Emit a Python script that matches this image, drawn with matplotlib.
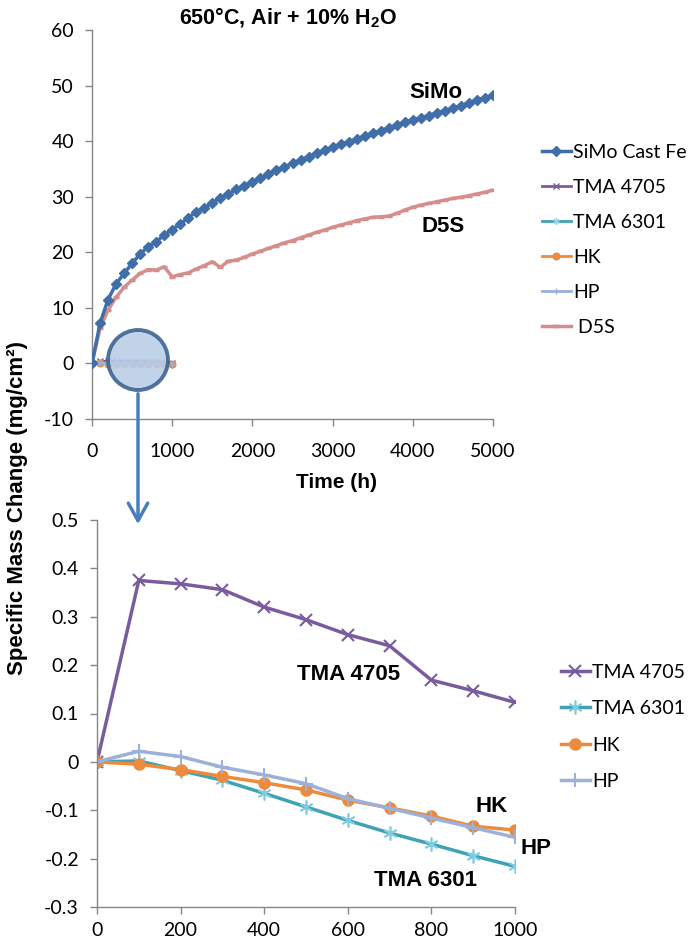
import numpy as np
import matplotlib
matplotlib.use('Agg')
import matplotlib.pyplot as plt
import matplotlib.patches as mpatches

plt.rcParams['font.family'] = ['Lato', 'DejaVu Sans']
plt.rcParams['axes.unicode_minus'] = False
plt.rcParams['mathtext.fontset'] = 'custom'
plt.rcParams['mathtext.rm'] = 'Liberation Sans:bold'
plt.rcParams['mathtext.bf'] = 'Liberation Sans:bold'

# long exposure, 0-5000 h
t_long = list(range(0, 5001, 100))
simo = [0, 7.2, 11.5, 14.3, 16.2, 18.0, 19.7, 21.0, 21.9, 23.1, 24.1,
        25.1, 26.2, 27.3, 28.0, 28.9, 29.8, 30.5, 31.3, 32.0, 32.7,
        33.3, 34.0, 34.8, 35.4, 36.0, 36.6, 37.2, 37.8, 38.4, 38.9,
        39.4, 39.9, 40.4, 40.9, 41.4, 41.9, 42.4, 42.9, 43.4, 43.8,
        44.2, 44.6, 45.1, 45.5, 45.9, 46.4, 46.9, 47.4, 47.8, 48.3]
d5s = [0, 6.3, 9.6, 11.9, 13.7, 15.0, 16.2, 16.9, 16.8, 17.4, 15.6,
       16.0, 16.3, 17.0, 17.6, 18.3, 17.3, 18.4, 18.6, 19.1, 19.7,
       20.2, 20.7, 21.2, 21.7, 22.1, 22.6, 23.1, 23.6, 24.0, 24.5,
       24.9, 25.3, 25.7, 26.0, 26.3, 26.4, 26.5, 27.0, 27.6, 28.1,
       28.5, 28.8, 29.1, 29.4, 29.7, 29.9, 30.2, 30.5, 30.8, 31.2]

# short exposure, 0-1000 h
t_short = [0, 100, 200, 300, 400, 500, 600, 700, 800, 900, 1000]
tma4705 = [0, 0.375, 0.368, 0.356, 0.320, 0.294, 0.263, 0.240, 0.169, 0.147, 0.123]
tma6301 = [0, 0.002, -0.018, -0.038, -0.065, -0.093, -0.121, -0.147, -0.170, -0.194, -0.216]
hk = [0, -0.005, -0.016, -0.030, -0.043, -0.058, -0.079, -0.095, -0.112, -0.133, -0.141]
hp = [0, 0.022, 0.011, -0.011, -0.027, -0.045, -0.076, -0.096, -0.116, -0.136, -0.156]

c_simo = '#3f6ea9'
c_4705 = '#7a5c9e'
c_6301 = '#3fa3b5'
c_hk = '#ee8a3c'
c_hp = '#9bb1da'
c_d5s = '#d48f8d'
gray = '#868686'
bold = dict(fontweight='bold', family='Liberation Sans')

fig = plt.figure(figsize=(6.88, 9.42), dpi=100)
ax1 = fig.add_axes([92/688, 1-419/942, (493-92)/688, (419-30)/942])
ax2 = fig.add_axes([97/688, 1-907/942, (515-97)/688, (907-520)/942])

def style(ax, xpad):
    for s in ['top', 'right']:
        ax.spines[s].set_visible(False)
    for s in ['left', 'bottom']:
        ax.spines[s].set_color(gray)
        ax.spines[s].set_linewidth(1.0)
    ax.tick_params(axis='both', colors=gray, labelcolor='black', labelsize=14,
                   length=5, width=1.0)
    ax.tick_params(axis='x', pad=xpad)
    ax.tick_params(axis='y', pad=8)

# top chart
ax1.plot(t_long, simo, color=c_simo, lw=2.5, marker='D', ms=6, mec=c_simo,
         label='SiMo Cast Fe', zorder=3)
ax1.plot(t_short, tma4705, color=c_4705, lw=2, marker='x', ms=5, label='TMA 4705')
ax1.plot(t_short, tma6301, color=c_6301, lw=2, marker=(6, 2, 0), ms=6, mec='#8fd3e3', label='TMA 6301')
ax1.plot(t_short, hk, color=c_hk, lw=2, marker='o', ms=6, label='HK')
ax1.plot(t_short, hp, color=c_hp, lw=2, marker='+', ms=6, label='HP')
ax1.plot(t_long, d5s, color=c_d5s, lw=2.5, marker='_', ms=6, mew=2.5, label=' D5S')
ax1.set_xlim(0, 5000)
ax1.set_ylim(-10, 60)
ax1.set_xticks(range(0, 5001, 1000))
ax1.set_yticks(range(-10, 61, 10))
style(ax1, 12)
ax1.set_xlabel('Time (h)', fontsize=15, **bold)
ax1.xaxis.set_label_coords((336-92)/401, -0.14)
ax1.text(4290, 48.8, 'SiMo', fontsize=16, ha='center', va='center', **bold)
ax1.text(4380, 24.6, 'D5S', fontsize=16, ha='center', va='center', **bold)

h, l = ax1.get_legend_handles_labels()
for hh in h:
    hh.set_markersize(hh.get_markersize() * 0.8)
fig.legend(h, l, loc='center left', bbox_to_anchor=(534/688, 1-240/942),
           frameon=False, fontsize=14, handlelength=1.5, handletextpad=0.1,
           labelspacing=0.93, borderaxespad=0)

# bottom chart
ax2.plot(t_short, tma4705, color=c_4705, lw=2.5, marker='x', ms=9, mew=1.5, label='TMA 4705')
ax2.plot(t_short, tma6301, color=c_6301, lw=2.5, marker=(6, 2, 0), ms=10, mew=1.2,
         mec='#7fcbe0', label='TMA 6301')
ax2.plot(t_short, hk, color=c_hk, lw=2.5, marker='o', ms=8, label='HK')
ax2.plot(t_short, hp, color=c_hp, lw=2.5, marker='+', ms=10, mew=1.5, label='HP')
ax2.set_xlim(0, 1000)
ax2.set_ylim(-0.3, 0.5)
ax2.set_xticks(range(0, 1001, 200))
ax2.set_yticks(np.arange(-0.3, 0.51, 0.1))
ax2.set_yticklabels(['-0.3', '-0.2', '-0.1', '0', '0.1', '0.2', '0.3', '0.4', '0.5'])
style(ax2, 6)
for txt, x, y in [('TMA 4705', 603, 0.18), ('HK', 944, -0.093), ('HP', 1050, -0.179),
                  ('TMA 6301', 785, -0.245)]:
    ax2.text(x, y, txt, fontsize=16, ha='center', va='center', clip_on=False, **bold)
fig.legend(*ax2.get_legend_handles_labels(), loc='center left',
           bbox_to_anchor=(553/688, 1-727/942), frameon=False, fontsize=14,
           handlelength=1.5, handletextpad=0.1, labelspacing=1.0, borderaxespad=0)

# titles
fig.text(288/688, 1-18/942, '650°C, Air + 10% H$_{2}$O', fontsize=15.5,
         ha='center', va='center', **bold)
fig.text(18/688, 1-508/942, 'Specific Mass Change (mg/cm²)', fontsize=16,
         rotation=90, ha='center', va='center', **bold)

# zoom circle and arrow
circ = mpatches.Circle((1.38, (942-360)/100), 0.30, transform=fig.dpi_scale_trans,
                       facecolor='#b9cde6', edgecolor='#3b618d', lw=2.8, alpha=0.88, zorder=10)
fig.add_artist(circ)
arr = mpatches.FancyArrowPatch((1.38, (942-391)/100), (1.38, (942-527)/100),
                               transform=fig.dpi_scale_trans, arrowstyle='->,head_length=0.9,head_width=0.5',
                               mutation_scale=14, color='#4a7ebb', lw=2.5)
fig.add_artist(arr)

plt.savefig('out.png', dpi=100)
